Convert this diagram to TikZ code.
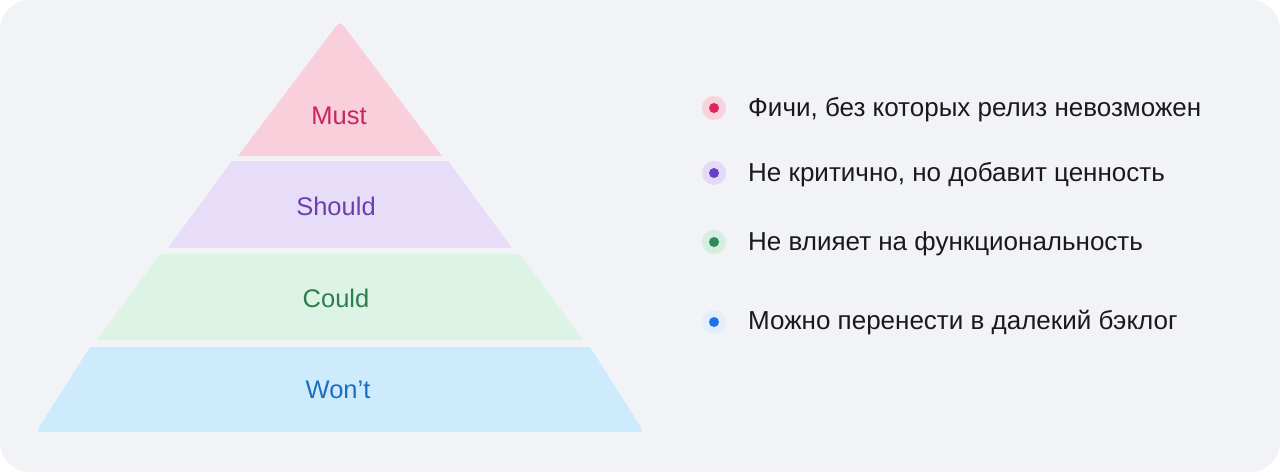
\documentclass[tikz,border=0pt]{standalone}
\usepackage{fontspec}
\setmainfont{Liberation Sans}
\definecolor{bgc}{HTML}{F2F3F7}
\definecolor{mustf}{HTML}{F8CFDA}
\definecolor{shouldf}{HTML}{E8DDF8}
\definecolor{couldf}{HTML}{DCF3E5}
\definecolor{wontf}{HTML}{CDEBFD}
\definecolor{mustc}{HTML}{C8255F}
\definecolor{shouldc}{HTML}{6B3FAE}
\definecolor{couldc}{HTML}{2E7D4F}
\definecolor{wontc}{HTML}{1C6FBF}
\definecolor{dotm}{HTML}{E0245E}
\definecolor{dots}{HTML}{6A3FC8}
\definecolor{dotc}{HTML}{2E8B57}
\definecolor{dotw}{HTML}{1A73E8}
\definecolor{halom}{HTML}{F8D3DE}
\definecolor{halos}{HTML}{E3DAF7}
\definecolor{haloc}{HTML}{D5EEDF}
\definecolor{halow}{HTML}{E2EFFA}
\definecolor{txt}{HTML}{1A1A1A}
\tikzset{
  lbl/.style={font=\fontsize{25.5}{30}\selectfont, inner sep=0pt, anchor=center},
  item/.style={font=\fontsize{26}{31}\selectfont, text=txt, inner sep=0pt, anchor=west},
  halo/.style={circle, minimum size=24pt, inner sep=0pt},
  dotc/.style={circle, minimum size=10pt, inner sep=0pt}
}
\begin{document}
\begin{tikzpicture}[x=1pt,y=-1pt]
\useasboundingbox (0,0) rectangle (1280,472);
\fill[white] (0,0) rectangle (1280,472);
\fill[bgc, rounded corners=30pt] (0,0) rectangle (1280,472);
% pyramid layers
\fill[mustf] (238,156) -- (332.8,30.6) .. controls (340,21) .. (347.2,30.6) -- (442,156) -- cycle;
\fill[shouldf] (232,161) -- (448,161) -- (512,248) -- (168,248) -- cycle;
\fill[couldf] (160,254) -- (520,254) -- (583,340) -- (97,340) -- cycle;
\fill[wontf] (90,347) -- (590,347) -- (640.2,426.2) .. controls (644.2,432.5) and (643,432) .. (636,432)
  -- (44,432) .. controls (37,432) and (35.8,432.5) .. (39.8,426.2) -- cycle;
% labels
\node[lbl, text=mustc] (must) at (339,116) {Must};
\node[lbl, text=shouldc] (should) at (336,206) {Should};
\node[lbl, text=couldc] (could) at (336,298) {Could};
\node[lbl, text=wontc] (wont) at (338,390) {Won’t};
% legend
\node[halo, fill=halom] (h1) at (714,108) {};
\node[dotc, fill=dotm] (d1) at (714,108) {};
\node[item] (t1) at (748,110) {Фичи, без которых релиз невозможен};
\node[halo, fill=halos] (h2) at (714,173) {};
\node[dotc, fill=dots] (d2) at (714,173) {};
\node[item] (t2) at (748,175) {Не критично, но добавит ценность};
\node[halo, fill=haloc] (h3) at (714,242) {};
\node[dotc, fill=dotc] (d3) at (714,242) {};
\node[item] (t3) at (748,244) {Не влияет на функциональность};
\node[halo, fill=halow] (h4) at (714,322) {};
\node[dotc, fill=dotw] (d4) at (714,322) {};
\node[item] (t4) at (748,323) {Можно перенести в далекий бэклог};
\end{tikzpicture}
\end{document}
